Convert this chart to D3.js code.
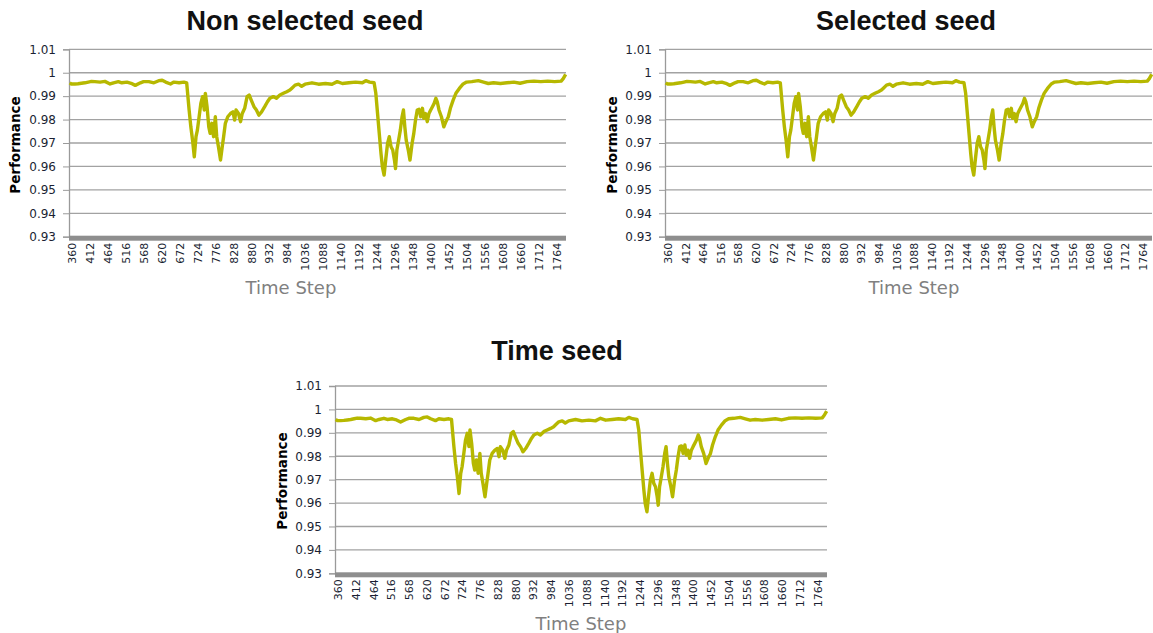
<!DOCTYPE html>
<html><head><meta charset="utf-8">
<script src="https://cdn.jsdelivr.net/npm/d3@7"></script>
<style>body{margin:0;background:#fff}svg{display:block}</style>
</head><body>
<svg id="c" width="1153" height="633"></svg>
<script>
// ---- data ----
const chartTitles = ["Non selected seed", "Selected seed", "Time seed"];
const yTickValues = [0.93, 0.94, 0.95, 0.96, 0.97, 0.98, 0.99, 1.00, 1.01];
const yTickLabels = ["0.93","0.94","0.95","0.96","0.97","0.98","0.99","1","1.01"];
const xTickLabels = ["360","412","464","516","568","620","672","724","776","828","880","932","984","1036","1088","1140","1192","1244","1296","1348","1400","1452","1504","1556","1608","1660","1712","1764"];
const timeSteps = [360,365,375,384,394,404,414,423,433,448,462,477,487,501,511,526,538,550,565,574,589,604,618,628,638,652,662,677,691,699,
706,711,716,721,726,730,735,740,745,750,753,758,763,767,772,777,782,786,791,797,802,806,811,818,826,833,838,842,849,855,860,867,874,880,886,894,901,908,916,925,933,940,950,959,969,979,989,998,
1003,1013,1023,1032,1042,1062,1081,1101,1120,1135,1150,1169,1188,1208,1218,1229,1242,1247,1252,1257,1262,1266,1271,1276,1281,1286,1291,1296,1301,1304,1308,1313,1318,1323,1327,1331,1335,1341,1346,1352,1357,1362,1367,1372,1377,1382,1386,1391,1396,1401,1406,1411,1416,1421,1425,1430,1437,1444,1450,1457,1463,1471,1479,1489,1500,1510,1525,1544,1559,1573,1588,1608,1627,1647,1665,1685,1705,1725,1745,1765,1784,1790,1797];
const perfNonSelected = [0.9957,0.9952,0.9952,0.9953,0.9955,0.9957,0.9960,0.9963,0.9962,0.9960,0.9963,0.9952,0.9957,0.9962,0.9957,0.9960,0.9955,0.9946,0.9957,0.9962,0.9962,0.9957,0.9966,0.9968,0.9960,0.9952,0.9960,0.9957,0.9960,0.9957,
0.9841,0.9769,0.9712,0.9641,0.9727,0.9755,0.9812,0.9869,0.9898,0.9841,0.9912,0.9855,0.9769,0.9741,0.9784,0.9727,0.9812,0.9727,0.9684,0.9627,0.9684,0.9727,0.9784,0.9812,0.9826,0.9833,0.9798,0.9841,0.9826,0.9791,0.9826,0.9848,0.9898,0.9905,0.9883,0.9855,0.9841,0.9819,0.9833,0.9855,0.9876,0.9891,0.9898,0.9891,0.9905,0.9912,0.9919,0.9926,
0.9933,0.9947,0.9951,0.9942,0.9951,0.9957,0.9951,0.9954,0.9951,0.9962,0.9954,0.9957,0.9960,0.9957,0.9966,0.9960,0.9957,0.9912,0.9826,0.9740,0.9655,0.9598,0.9563,0.9634,0.9698,0.9727,0.9684,0.9670,0.9627,0.9591,0.9670,0.9712,0.9755,0.9812,0.9841,0.9769,0.9712,0.9670,0.9627,0.9698,0.9741,0.9798,0.9841,0.9844,0.9812,0.9848,0.9805,0.9826,0.9791,0.9826,0.9841,0.9855,0.9869,0.9891,0.9876,0.9841,0.9812,0.9769,0.9791,0.9812,0.9848,0.9883,0.9912,0.9933,0.9952,0.9960,0.9962,0.9966,0.9960,0.9954,0.9957,0.9954,0.9957,0.9960,0.9955,0.9962,0.9964,0.9962,0.9964,0.9962,0.9964,0.9975,0.9993];
const perfSelected = perfNonSelected.slice();
const perfTime = perfNonSelected.slice();
const seriesByChart = [perfNonSelected, perfSelected, perfTime];

// ---- layout ----
const layouts = [
  {left:69, right:566, top:49.3, bottom:236.7, titleX:305, titleY:21, xLabX:291, xLabY:288, yLabX:15, yLabY:145},
  {left:665, right:1152, top:49.3, bottom:236.7, titleX:906, titleY:21, xLabX:914, xLabY:288, yLabX:612, yLabY:145},
  {left:335, right:827, top:386, bottom:573.3, titleX:557, titleY:351, xLabX:581, xLabY:624, yLabX:282, yLabY:481}
];

const svg = d3.select("#c");
const lineColor = "#b6b800";

layouts.forEach((L, i) => {
  const g = svg.append("g");
  const x = d3.scaleLinear().domain([358, 1798]).range([L.left, L.right]);
  const y = d3.scaleLinear().domain([0.93, 1.01]).range([L.bottom, L.top]);

  // gridlines
  g.append("g").selectAll("line").data(yTickValues.slice(1)).join("line")
    .attr("x1", L.left).attr("x2", L.right)
    .attr("y1", d => y(d)).attr("y2", d => y(d))
    .attr("stroke", "#a2a2a2").attr("stroke-width", 1.3);

  // left axis
  const yAxis = d3.axisLeft(y).tickValues(yTickValues)
    .tickFormat((d, k) => yTickLabels[k]).tickSize(6).tickPadding(7);
  const ya = g.append("g").attr("transform", `translate(${L.left},0)`).call(yAxis);
  ya.select(".domain").attr("stroke", "#9a9a9a").attr("stroke-width", 1.3);
  ya.selectAll(".tick line").attr("stroke", "#9a9a9a");
  ya.selectAll(".tick text").attr("fill", "#1b1f33")
    .style("font-family", "'DejaVu Sans', Verdana, sans-serif").style("font-size", "12px");

  // bottom floor bar
  g.append("rect").attr("x", L.left).attr("y", y(0.93) - 1)
    .attr("width", L.right - L.left).attr("height", 5).attr("fill", "#8e8e8e");

  // x axis labels
  const xAxis = d3.axisBottom(x).tickValues(xTickLabels.map(Number))
    .tickFormat((d, k) => xTickLabels[k]).tickSize(0).tickPadding(0);
  const xa = g.append("g").attr("transform", `translate(0,${L.bottom})`).call(xAxis);
  xa.select(".domain").remove();
  xa.selectAll(".tick text")
    .attr("transform", "translate(2,6) rotate(-90)")
    .attr("text-anchor", "end").attr("dy", "0.35em").attr("x", 0).attr("y", 0)
    .attr("fill", "#1b1f33")
    .style("font-family", "'DejaVu Sans', Verdana, sans-serif").style("font-size", "11px");

  // line
  const vals = seriesByChart[i];
  const pts = timeSteps.map((t, k) => [t, vals[k]]);
  g.append("path").datum(pts)
    .attr("d", d3.line().x(d => x(d[0])).y(d => y(d[1])))
    .attr("fill", "none").attr("stroke", lineColor).attr("stroke-width", 3.4)
    .attr("stroke-linejoin", "round");

  // title
  g.append("text").attr("x", L.titleX).attr("y", L.titleY).attr("dy", "0.35em")
    .attr("text-anchor", "middle").attr("fill", "#111")
    .style("font-family", "'Liberation Sans', Arial, sans-serif").style("font-weight", "bold")
    .style("font-size", "27px").text(chartTitles[i]);

  // axis titles
  g.append("text").attr("x", L.xLabX).attr("y", L.xLabY).attr("dy", "0.35em")
    .attr("text-anchor", "middle").attr("fill", "#808080")
    .style("font-family", "'DejaVu Sans', Verdana, sans-serif").style("font-size", "18px")
    .text("Time Step");
  g.append("text").attr("transform", `translate(${L.yLabX},${L.yLabY}) rotate(-90)`)
    .attr("dy", "0.35em").attr("text-anchor", "middle").attr("fill", "#000")
    .style("font-family", "'DejaVu Sans', Verdana, sans-serif").style("font-weight", "bold")
    .style("font-size", "13.5px").text("Performance");
});
</script>
</body></html>
